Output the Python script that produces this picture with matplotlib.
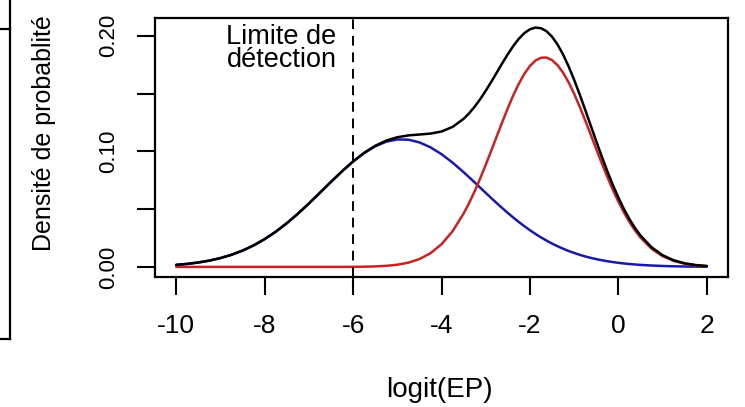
import matplotlib

matplotlib.use("Agg")
import matplotlib.pyplot as plt
from matplotlib.lines import Line2D
import numpy as np

# logit(EP) grid: finer step around the main peak
logit_ep = np.r_[
    np.arange(-10.0, -3.49, 0.25),
    np.arange(-3.375, 0.51, 0.125),
    np.arange(0.75, 2.01, 0.25),
]

# Component densities of the two-population mixture
density_low = [
    0.00178, 0.00264, 0.00384, 0.00548, 0.00767, 0.01051, 0.01412, 0.01861,
    0.02404, 0.03044, 0.03779, 0.04599, 0.05487, 0.06419, 0.07360, 0.08274,
    0.09119, 0.09853, 0.10437, 0.10837, 0.11032, 0.11011, 0.10779, 0.10353,
    0.09757, 0.09027, 0.08199,
    0.07762, 0.07314, 0.06862, 0.06409, 0.05960, 0.05518, 0.05088, 0.04671,
    0.04269, 0.03885, 0.03521, 0.03178, 0.02856, 0.02556, 0.02279, 0.02023,
    0.01788, 0.01576, 0.01381, 0.01207, 0.01050, 0.00910, 0.00785, 0.00676,
    0.00579, 0.00494, 0.00420, 0.00356, 0.00300, 0.00252, 0.00211, 0.00176,
    0.00122, 0.00082, 0.00055, 0.00036, 0.00024, 0.00015,
]
density_high = [
    0.0, 0.0, 0.0, 0.0, 0.0, 0.0, 0.0, 0.0,
    0.0, 0.0, 0.0, 0.0, 0.0, 0.0, 0.0, 0.00003,
    0.00008, 0.00019, 0.00044, 0.00094, 0.00191, 0.00369, 0.00679, 0.01184,
    0.01962, 0.03088, 0.04615,
    0.05535, 0.06550, 0.07655, 0.08831, 0.10055, 0.11303, 0.12542, 0.13739,
    0.14857, 0.15862, 0.16714, 0.17389, 0.17857, 0.18103, 0.18117, 0.17899,
    0.17456, 0.16805, 0.15972, 0.14985, 0.13879, 0.12689, 0.11452, 0.10204,
    0.08974, 0.07793, 0.06679, 0.05651, 0.04720, 0.03893, 0.03167, 0.02545,
    0.01581, 0.00933, 0.00522, 0.00278, 0.00140, 0.00067,
]
# Overall mixture density
density_total = [
    0.00178, 0.00264, 0.00384, 0.00548, 0.00767, 0.01051, 0.01412, 0.01861,
    0.02404, 0.03044, 0.03779, 0.04599, 0.05487, 0.06419, 0.07360, 0.08277,
    0.09127, 0.09872, 0.10481, 0.10931, 0.11223, 0.11380, 0.11458, 0.11537,
    0.11719, 0.12115, 0.12814,
    0.13297, 0.13864, 0.14517, 0.15240, 0.16015, 0.16821, 0.17630, 0.18410,
    0.19126, 0.19747, 0.20235, 0.20567, 0.20713, 0.20659, 0.20396, 0.19922,
    0.19244, 0.18381, 0.17353, 0.16192, 0.14929, 0.13599, 0.12237, 0.10880,
    0.09553, 0.08287, 0.07099, 0.06007, 0.05020, 0.04145, 0.03378, 0.02721,
    0.01703, 0.01015, 0.00577, 0.00314, 0.00164, 0.00082,
]

detection_limit = -6
x_ticks = [-10, -8, -6, -4, -2, 0, 2]
y_ticks = [0.0, 0.05, 0.10, 0.15, 0.20]
y_tick_labels = ["0.00", "", "0.10", "", "0.20"]

W, H = 745, 407


def px(x, y):
    """Pixel position (from top-left) to figure fraction."""
    return x / W, 1 - y / H


def plot_density():
    plt.rcParams["font.family"] = ["Liberation Sans", "DejaVu Sans"]

    fig = plt.figure(figsize=(W / 100, H / 100), dpi=100)
    left, top = px(155, 18)
    right, bottom = px(728, 276.5)
    ax = fig.add_axes([left, bottom, right - left, top - bottom])

    style = dict(lw=1.8, solid_joinstyle="round", solid_capstyle="round")
    ax.plot(logit_ep, density_low, color="#1a1aa6", **style)
    ax.plot(logit_ep, density_high, color="#c92224", **style)
    ax.plot(logit_ep, density_total, color="black", **style)
    ax.margins(x=0.04, y=0.04)
    ax.axvline(detection_limit, color="black", lw=1.4, ls=(0, (5, 3.5)))

    ax.annotate(
        "Limite de\ndétection",
        xy=(detection_limit, 1),
        xycoords=ax.get_xaxis_transform(),
        xytext=(-12, -4),
        textcoords="offset points",
        ha="right",
        va="top",
        multialignment="right",
        linespacing=0.85,
        fontsize=19.5,
    )

    ax.set_xticks(x_ticks)
    ax.set_xticklabels([f"{t:d}" for t in x_ticks])
    ax.set_yticks(y_ticks)
    ax.set_yticklabels(y_tick_labels, rotation=90, va="center")
    ax.tick_params(axis="x", direction="out", length=13, width=1.5, pad=14, labelsize=19)
    ax.tick_params(axis="y", direction="out", length=13, width=1.5, pad=13, labelsize=16)
    for spine in ax.spines.values():
        spine.set_linewidth(1.6)

    fig.text(*px(44, 133), "Densité de probablité", rotation=90,
             ha="center", va="center", fontsize=18)
    fig.text(*px(439, 390), "logit(EP)", ha="center", va="center", fontsize=20)

    # edge of the neighbouring panel
    fig.add_artist(Line2D([10 / W, 10 / W], [1, 1 - 339 / H], color="black", lw=1.6))
    fig.add_artist(Line2D([0, 10 / W], [1 - 339 / H, 1 - 339 / H], color="black", lw=1.6))
    fig.add_artist(Line2D([0, 10 / W], [1 - 29 / H, 1 - 29 / H], color="black", lw=1.6))

    fig.savefig("out.png", dpi=100)
    plt.close(fig)


def main():
    plot_density()


if __name__ == "__main__":
    main()
